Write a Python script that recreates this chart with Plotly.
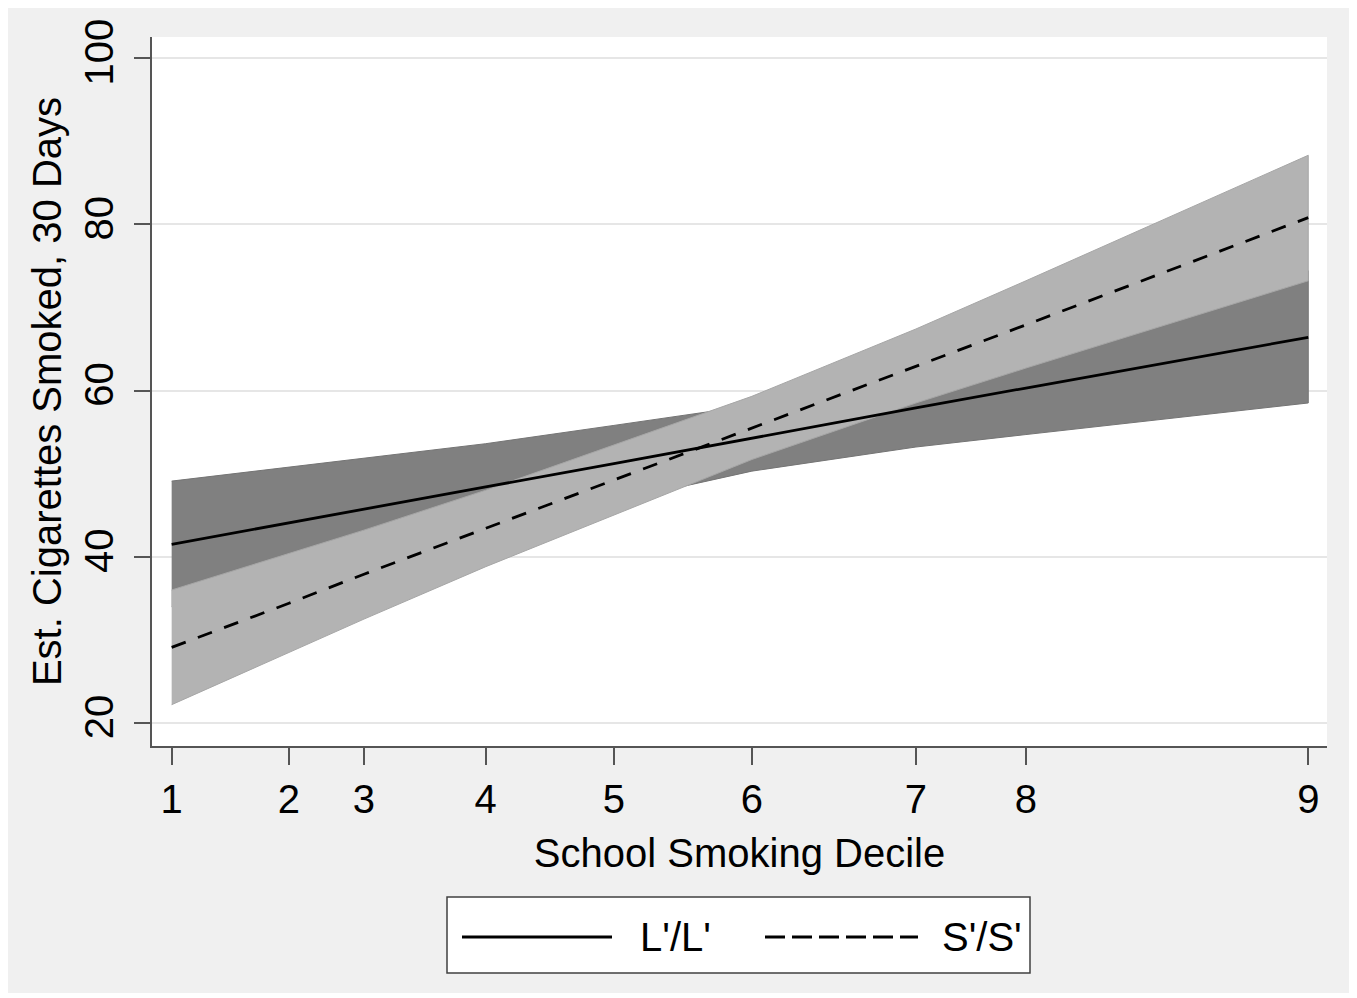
import plotly.graph_objects as go

# ---------------- data ----------------
# underlying school-smoking position of each decile (axis is not evenly spaced)
decile_pos = [0.0, 10.32, 16.92, 27.63, 38.91, 51.05, 65.48, 75.16, 100.0]
decile_labels = ["1", "2", "3", "4", "5", "6", "7", "8", "9"]

# L'/L' genotype: fitted estimate and 95% CI
ll_fit = [41.5, 44.1, 45.7, 48.4, 51.2, 54.3, 57.9, 60.3, 66.4]
ll_upper = [49.1, 50.8, 51.8, 53.6, 55.8, 58.2, 62.5, 65.8, 74.4]
ll_lower = [34.0, 37.4, 39.7, 43.2, 46.6, 50.3, 53.2, 54.7, 58.5]

# S'/S' genotype: fitted estimate and 95% CI
ss_fit = [29.1, 34.4, 37.9, 43.4, 49.2, 55.5, 62.9, 67.9, 80.8]
ss_upper = [36.0, 40.4, 43.2, 48.0, 53.4, 59.3, 67.4, 73.2, 88.3]
ss_lower = [22.2, 28.5, 32.5, 38.8, 45.0, 51.7, 58.5, 62.7, 73.2]

y_ticks = [20, 40, 60, 80, 100]
series_names = ["L'/L'", "S'/S'"]

# ---------------- layout geometry (pixels) ----------------
# the page body adds an 8px offset, so the figure is 8px smaller
OFF = 8
W, H = 1357 - OFF, 998 - OFF
ML, MR, MT, MB = 152 - OFF, 30, 37 - OFF, 252
PW, PH = W - ML - MR, H - MT - MB


def px(xp):
    """screen x pixel -> paper coordinate"""
    return (xp - OFF - ML) / PW


def py(yp):
    """screen y pixel -> paper coordinate"""
    return (H - MB - (yp - OFF)) / PH


FONT = "Arial, 'Liberation Sans', sans-serif"
DARK_BAND = "#808080"
LIGHT_BAND = "#b3b3b3"
LW = 2.8

fig = go.Figure()

# CI bands
fig.add_trace(go.Scatter(
    x=decile_pos + decile_pos[::-1], y=ll_upper + ll_lower[::-1],
    fill="toself", fillcolor=DARK_BAND, mode="lines",
    line=dict(color="#747474", width=1), showlegend=False, hoverinfo="skip"))
fig.add_trace(go.Scatter(
    x=decile_pos + decile_pos[::-1], y=ss_upper + ss_lower[::-1],
    fill="toself", fillcolor=LIGHT_BAND, mode="lines",
    line=dict(color="#a6a6a6", width=1), showlegend=False, hoverinfo="skip"))

# fitted lines
fig.add_trace(go.Scatter(
    x=decile_pos, y=ll_fit, mode="lines", name=series_names[0],
    line=dict(color="black", width=LW), showlegend=False))
fig.add_trace(go.Scatter(
    x=decile_pos, y=ss_fit, mode="lines", name=series_names[1],
    line=dict(color="black", width=LW, dash="15px,13px"), showlegend=False))

shapes = [
    # grey outer frame
    dict(type="rect", xref="paper", yref="paper", layer="below",
         x0=px(6), x1=px(1350), y0=py(993), y1=py(5),
         fillcolor="#f0f0f0", line=dict(width=0)),
    # white plot region
    dict(type="rect", xref="paper", yref="paper", layer="below",
         x0=0, x1=1, y0=0, y1=1, fillcolor="white", line=dict(width=0)),
    # legend box
    dict(type="rect", xref="paper", yref="paper", layer="above",
         x0=px(447), x1=px(1030), y0=py(973), y1=py(897),
         fillcolor="white", line=dict(color="#404040", width=1.5)),
    # legend line samples
    dict(type="line", xref="paper", yref="paper",
         x0=px(462), x1=px(612), y0=py(937), y1=py(937),
         line=dict(color="black", width=LW)),
    dict(type="line", xref="paper", yref="paper",
         x0=px(765), x1=px(918), y0=py(937), y1=py(937),
         line=dict(color="black", width=LW, dash="20px,7px")),
]

annotations = [
    dict(text=series_names[0], xref="paper", yref="paper",
         x=px(638), y=py(937), xanchor="left", yanchor="middle",
         showarrow=False, font=dict(family=FONT, size=40, color="black")),
    dict(text=series_names[1], xref="paper", yref="paper",
         x=px(940), y=py(937), xanchor="left", yanchor="middle",
         showarrow=False, font=dict(family=FONT, size=40, color="black")),
]

fig.update_layout(
    width=W, height=H,
    margin=dict(l=ML, r=MR, t=MT, b=MB, pad=0),
    paper_bgcolor="white", plot_bgcolor="white",
    font=dict(family=FONT, size=40, color="black"),
    shapes=shapes, annotations=annotations,
    showlegend=False,
)

fig.update_xaxes(
    range=[-1.73, 101.65], tickmode="array",
    tickvals=decile_pos, ticktext=decile_labels,
    showline=True, linecolor="#555555", linewidth=1.5,
    ticks="outside", ticklen=17, tickwidth=1.5, tickcolor="#555555",
    showgrid=False, zeroline=False,
    tickfont=dict(family=FONT, size=40, color="black"),
    title=dict(text="School Smoking Decile", standoff=19,
               font=dict(family=FONT, size=40, color="black")),
)

fig.update_yaxes(
    range=[17.23, 102.53], tickmode="array", tickvals=y_ticks,
    showline=True, linecolor="#555555", linewidth=1.5,
    ticks="outside", ticklen=16, tickwidth=1.5, tickcolor="#555555",
    showgrid=True, gridcolor="#e6e6e6", gridwidth=2, zeroline=False,
    tickangle=-90, ticklabelstandoff=5,
    tickfont=dict(family=FONT, size=40, color="black"),
    title=dict(text="Est. Cigarettes Smoked, 30 Days", standoff=3,
               font=dict(family=FONT, size=40, color="black")),
)

fig.write_html("out.html")
